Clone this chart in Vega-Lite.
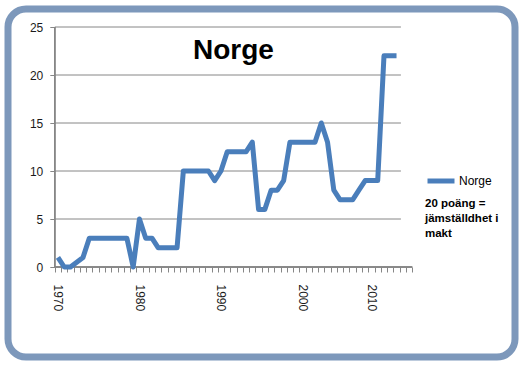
{
  "$schema": "https://vega.github.io/schema/vega-lite/v6.json",
  "width": 507,
  "height": 348,
  "autosize": {"type": "none"},
  "padding": {"left": 8, "top": 9, "right": 10, "bottom": 10},
  "background": "white",
  "title": {
    "text": "Norge",
    "orient": "top",
    "anchor": "middle",
    "frame": "group",
    "offset": -78,
    "dx": -28,
    "baseline": "alphabetic",
    "font": "Liberation Sans",
    "fontSize": 28,
    "fontWeight": "bold",
    "color": "#000000"
  },
  "config": {
    "view": {"stroke": "#7d98bb", "strokeWidth": 7, "cornerRadius": 18, "fill": "white"},
    "axis": {"labelFont": "Liberation Sans", "labelFontSize": 12, "labelColor": "#1a1a1a"}
  },
  "datasets": {
    "norge": [
      {"serie": "Norge", "punkt": 0, "poang": 1}, {"serie": "Norge", "punkt": 1, "poang": 0}, {"serie": "Norge", "punkt": 2, "poang": 0}, {"serie": "Norge", "punkt": 3, "poang": 0.5},
      {"serie": "Norge", "punkt": 4, "poang": 1}, {"serie": "Norge", "punkt": 5, "poang": 3}, {"serie": "Norge", "punkt": 6, "poang": 3}, {"serie": "Norge", "punkt": 7, "poang": 3},
      {"serie": "Norge", "punkt": 8, "poang": 3}, {"serie": "Norge", "punkt": 9, "poang": 3}, {"serie": "Norge", "punkt": 10, "poang": 3}, {"serie": "Norge", "punkt": 11, "poang": 3},
      {"serie": "Norge", "punkt": 12, "poang": 0}, {"serie": "Norge", "punkt": 13, "poang": 5}, {"serie": "Norge", "punkt": 14, "poang": 3}, {"serie": "Norge", "punkt": 15, "poang": 3},
      {"serie": "Norge", "punkt": 16, "poang": 2}, {"serie": "Norge", "punkt": 17, "poang": 2}, {"serie": "Norge", "punkt": 18, "poang": 2}, {"serie": "Norge", "punkt": 19, "poang": 2},
      {"serie": "Norge", "punkt": 20, "poang": 10}, {"serie": "Norge", "punkt": 21, "poang": 10}, {"serie": "Norge", "punkt": 22, "poang": 10}, {"serie": "Norge", "punkt": 23, "poang": 10},
      {"serie": "Norge", "punkt": 24, "poang": 10}, {"serie": "Norge", "punkt": 25, "poang": 9}, {"serie": "Norge", "punkt": 26, "poang": 10}, {"serie": "Norge", "punkt": 27, "poang": 12},
      {"serie": "Norge", "punkt": 28, "poang": 12}, {"serie": "Norge", "punkt": 29, "poang": 12}, {"serie": "Norge", "punkt": 30, "poang": 12}, {"serie": "Norge", "punkt": 31, "poang": 13},
      {"serie": "Norge", "punkt": 32, "poang": 6}, {"serie": "Norge", "punkt": 33, "poang": 6}, {"serie": "Norge", "punkt": 34, "poang": 8}, {"serie": "Norge", "punkt": 35, "poang": 8},
      {"serie": "Norge", "punkt": 36, "poang": 9}, {"serie": "Norge", "punkt": 37, "poang": 13}, {"serie": "Norge", "punkt": 38, "poang": 13}, {"serie": "Norge", "punkt": 39, "poang": 13},
      {"serie": "Norge", "punkt": 40, "poang": 13}, {"serie": "Norge", "punkt": 41, "poang": 13}, {"serie": "Norge", "punkt": 42, "poang": 15}, {"serie": "Norge", "punkt": 43, "poang": 13},
      {"serie": "Norge", "punkt": 44, "poang": 8}, {"serie": "Norge", "punkt": 45, "poang": 7}, {"serie": "Norge", "punkt": 46, "poang": 7}, {"serie": "Norge", "punkt": 47, "poang": 7},
      {"serie": "Norge", "punkt": 48, "poang": 8}, {"serie": "Norge", "punkt": 49, "poang": 9}, {"serie": "Norge", "punkt": 50, "poang": 9}, {"serie": "Norge", "punkt": 51, "poang": 9},
      {"serie": "Norge", "punkt": 52, "poang": 22}, {"serie": "Norge", "punkt": 53, "poang": 22}, {"serie": "Norge", "punkt": 54, "poang": 22}
    ],
    "grid": [{"v": 5}, {"v": 10}, {"v": 15}, {"v": 20}, {"v": 25}]
  },
  "layer": [
    {
      "data": {"name": "grid"},
      "mark": {"type": "rule", "color": "#868686", "strokeWidth": 1},
      "encoding": {
        "y": {"field": "v", "type": "quantitative", "scale": {"domain": [-9.375, 26.875], "nice": false, "zero": false}},
        "x": {"datum": -0.5, "type": "quantitative", "scale": {"domain": [-7.964, 72.896], "nice": false, "zero": false}},
        "x2": {"datum": 54.7}
      }
    },
    {
      "data": {"name": "grid"},
      "mark": {"type": "rule", "color": "#868686", "strokeWidth": 1},
      "encoding": {
        "y": {"datum": 0, "type": "quantitative", "scale": {"domain": [-9.375, 26.875], "nice": false, "zero": false}},
        "x": {"datum": -0.5, "type": "quantitative", "scale": {"domain": [-7.964, 72.896], "nice": false, "zero": false}},
        "x2": {"datum": 56.5}
      }
    },
    {
      "data": {"name": "grid"},
      "mark": {"type": "rule", "color": "#868686", "strokeWidth": 1},
      "encoding": {
        "x": {"datum": -0.5, "type": "quantitative", "scale": {"domain": [-7.964, 72.896], "nice": false, "zero": false}},
        "y": {"datum": 0, "type": "quantitative", "scale": {"domain": [-9.375, 26.875], "nice": false, "zero": false}},
        "y2": {"datum": 25}
      }
    },
    {
      "data": {"name": "norge"},
      "mark": {"type": "line", "strokeWidth": 5, "strokeJoin": "round", "strokeCap": "butt"},
      "encoding": {
        "x": {
          "field": "punkt", "type": "quantitative",
          "scale": {"domain": [-7.964, 72.896], "nice": false, "zero": false},
          "axis": {
            "title": null, "orient": "bottom", "offset": -90, "domain": false, "grid": false,
            "tickCount": 500,
            "values": [-0.5, 0.5, 1.5, 2.5, 3.5, 4.5, 5.5, 6.5, 7.5, 8.5, 9.5, 10.5, 11.5, 12.5, 13.5, 14.5, 15.5, 16.5, 17.5, 18.5, 19.5, 20.5, 21.5, 22.5, 23.5, 24.5, 25.5, 26.5, 27.5, 28.5, 29.5, 30.5, 31.5, 32.5, 33.5, 34.5, 35.5, 36.5, 37.5, 38.5, 39.5, 40.5, 41.5, 42.5, 43.5, 44.5, 45.5, 46.5, 47.5, 48.5, 49.5, 50.5, 51.5, 52.5, 53.5, 54.5, 55.5, 56.5],
            "labelExpr": "datum.value == 0.5 ? '1970' : datum.value == 13.5 ? '1980' : datum.value == 26.5 ? '1990' : datum.value == 39.5 ? '2000' : datum.value == 50.5 ? '2010' : ''",
            "labelOffset": -3.1,
            "labelAngle": 90,
            "labelAlign": "left",
            "labelBaseline": "middle",
            "labelPadding": 12,
            "labelOverlap": false,
            "labelFlush": false,
            "labelBound": false,
            "ticks": true, "tickSize": 5, "tickColor": "#868686", "tickWidth": 1
          }
        },
        "y": {
          "field": "poang", "type": "quantitative",
          "scale": {"domain": [-9.375, 26.875], "nice": false, "zero": false},
          "axis": {
            "title": null, "orient": "left", "offset": -46.8, "domain": false, "grid": false,
            "values": [0, 5, 10, 15, 20, 25],
            "labelPadding": 7, "labelFlush": false, "labelOverlap": false,
            "ticks": true, "tickSize": 5, "tickColor": "#868686", "tickWidth": 1
          }
        },
        "color": {
          "field": "serie", "type": "nominal",
          "scale": {"range": ["#4a7ebb"]},
          "legend": {
            "orient": "none",
            "legendX": 417,
            "legendY": 156,
            "padding": 0,
            "symbolType": "stroke",
            "symbolStrokeWidth": 5,
            "symbolSize": 729,
            "labelFont": "Liberation Sans",
            "labelFontSize": 12,
            "labelColor": "#000000",
            "labelOffset": 2,
            "title": ["20 poäng =", "jämställdhet i", "makt"],
            "titleOrient": "bottom",
            "titleAnchor": "start",
            "titleAlign": "left",
            "titleFont": "Liberation Sans",
            "titleFontSize": 11.5,
            "titleFontWeight": "bold",
            "titleLineHeight": 15,
            "titlePadding": 7,
            "titleColor": "#000000"
          }
        }
      }
    }
  ]
}
